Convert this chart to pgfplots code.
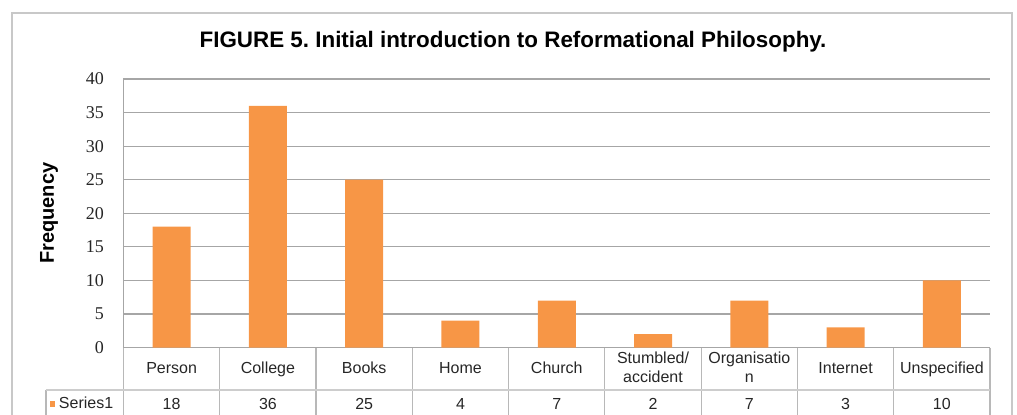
\documentclass[border=0pt]{standalone}
\usepackage{fontspec}
\setmainfont{Liberation Sans}
\newfontfamily\serifticks{Liberation Serif}
\usepackage{pgfplots}
\usepackage{pgfplotstable}
\pgfplotsset{compat=1.18}
\definecolor{barorange}{HTML}{F79646}
\definecolor{gridgray}{HTML}{A6A6A6}
\definecolor{tablegray}{HTML}{B8B8B8}
\definecolor{framegray}{HTML}{C8C8C8}
\pgfplotstableread{
x v
0 18
1 36
2 25
3 4
4 7
5 2
6 7
7 3
8 10
}\datatable
\frenchspacing
\begin{document}
\begin{tikzpicture}
\useasboundingbox (0,0) rectangle (508.5pt,207pt);
\clip (0,0) rectangle (508.5pt,207pt);
\draw[framegray, line width=1.1pt] (6pt,-10pt) rectangle (506pt,200.5pt);
\node[anchor=base, font=\fontsize{11.2}{13}\selectfont\bfseries] at (256.5pt,183.5pt)
  {FIGURE 5. Initial introduction to Reformational Philosophy.};
\begin{axis}[
  at={(61.75pt,33.25pt)}, anchor=south west,
  scale only axis, width=433.25pt, height=134.25pt,
  xmin=-0.5, xmax=8.5, ymin=0, ymax=40,
  clip=false,
  axis lines*=left,
  axis line style={draw=gridgray, line width=0.6pt},
  ytick={0,5,...,40},
  ymajorgrids, grid style={draw=gridgray, line width=0.6pt},
  major tick length=0pt,
  yticklabel style={anchor=east, xshift=-6.25pt, font=\serifticks\fontsize{9}{10}\selectfont, text=black!85},
  /pgf/number format/assume math mode=true,
  xtick={0,...,8},
  xticklabels={\strut Person, \strut College, \strut Books, \strut Home, \strut Church, {\strut Stumbled/\\\strut accident}, {\strut Organisatio\\\strut n}, \strut Internet, \strut Unspecified},
  xticklabel style={align=center, anchor=center, yshift=-11pt, font=\fontsize{8}{9.5}\selectfont, text=black!85},
  ylabel={Frequency},
  every axis y label/.style={at={(axis description cs:0,0.5)}, rotate=90, anchor=center, yshift=37.25pt, font=\fontsize{10}{12}\selectfont\bfseries},
  legend style={at={(axis cs:-1.27,-8.42)}, anchor=west, draw=none, fill=none, inner sep=0pt, font=\fontsize{8}{9.5}\selectfont, text=black!85, legend cell align=left},
]
\addplot[ybar, bar width=19pt, fill=barorange, draw=none,
  legend image code/.code={\fill[barorange] (0pt,-1.3pt) rectangle (2.6pt,1.3pt);}]
  table[x=x, y=v] {\datatable};
\addlegendentry{Series1}
\addplot[draw=none, forget plot, nodes near coords, point meta=explicit,
  every node near coord/.append style={anchor=center, font=\fontsize{8}{9.5}\selectfont, text=black!85}]
  table[x=x, y expr=-8.42, meta=v] {\datatable};
\draw[tablegray, line width=0.6pt]
  (axis cs:-0.5,0) -- (axis cs:-0.5,-11)
  (axis cs:0.5,0) -- (axis cs:0.5,-11)
  (axis cs:1.5,0) -- (axis cs:1.5,-11)
  (axis cs:2.5,0) -- (axis cs:2.5,-11)
  (axis cs:3.5,0) -- (axis cs:3.5,-11)
  (axis cs:4.5,0) -- (axis cs:4.5,-11)
  (axis cs:5.5,0) -- (axis cs:5.5,-11)
  (axis cs:6.5,0) -- (axis cs:6.5,-11)
  (axis cs:7.5,0) -- (axis cs:7.5,-11)
  (axis cs:8.5,0) -- (axis cs:8.5,-11)
  (axis cs:-1.305,-6.33) -- (axis cs:-1.305,-11);
\draw[tablegray!70, line width=0.6pt] (axis cs:-1.305,-6.33) -- (axis cs:8.5,-6.33);
\end{axis}
\end{tikzpicture}
\end{document}
